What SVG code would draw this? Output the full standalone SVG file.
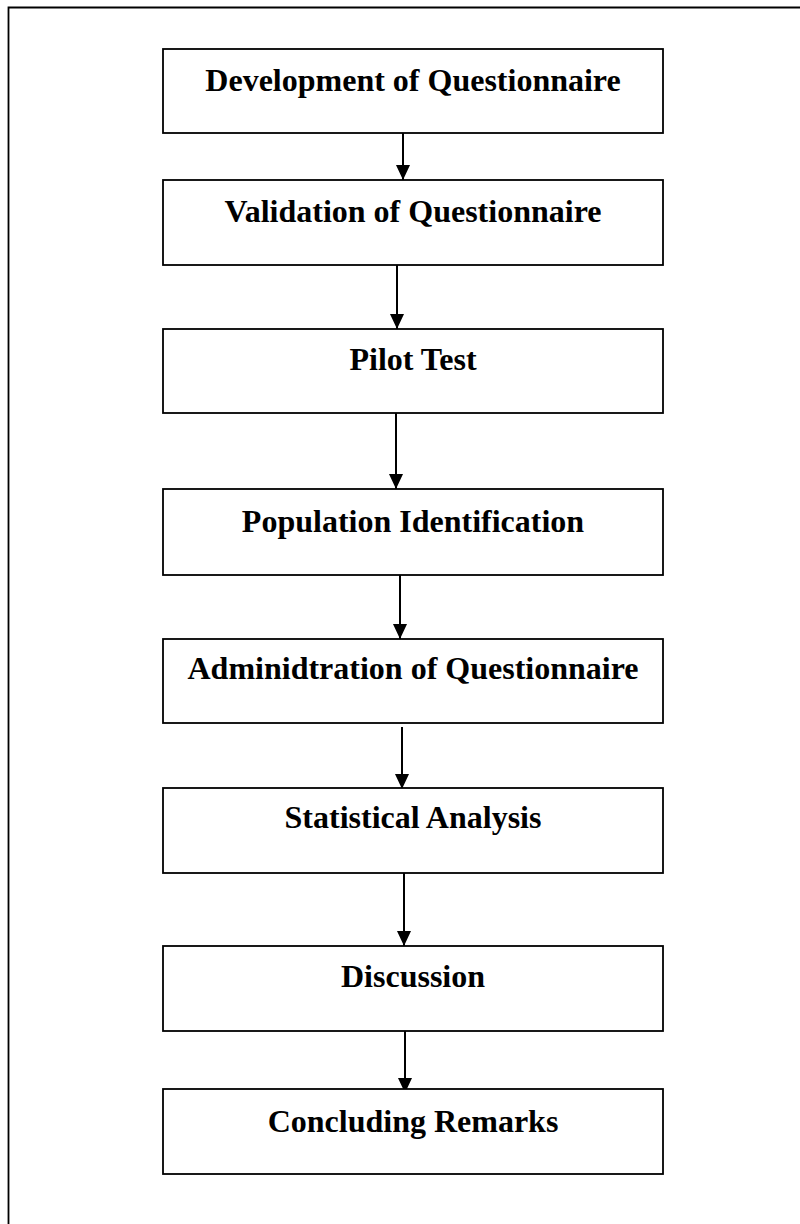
<svg xmlns="http://www.w3.org/2000/svg" width="800" height="1224" viewBox="0 0 800 1224">
<defs>
<style>
.box{fill:#fff;stroke:#000;stroke-width:1.8}
.lbl{font-family:"Liberation Serif","Times New Roman",serif;font-weight:bold;font-size:32px;text-anchor:middle;fill:#000}
.conn{stroke:#000;stroke-width:2;fill:none}
.frame{stroke:#000;stroke-width:1.8;fill:none}
</style>
<marker id="ah" viewBox="0 0 15 14" refX="15" refY="7" markerWidth="15" markerHeight="14" markerUnits="userSpaceOnUse" orient="auto">
<path d="M0,0 L15,7 L0,14 Z" fill="#000"/>
</marker>
</defs>
<rect width="800" height="1224" fill="#fff"/>
<path class="frame" d="M8.5,1224 V7.5 H800"/>
<g id="connectors">
<line class="conn" x1="403" y1="133" x2="403" y2="180" marker-end="url(#ah)"/>
<line class="conn" x1="397" y1="265" x2="397" y2="329" marker-end="url(#ah)"/>
<line class="conn" x1="396" y1="413" x2="396" y2="489" marker-end="url(#ah)"/>
<line class="conn" x1="400" y1="575" x2="400" y2="639" marker-end="url(#ah)"/>
<line class="conn" x1="402" y1="727" x2="402" y2="789" marker-end="url(#ah)"/>
<line class="conn" x1="404" y1="873" x2="404" y2="946" marker-end="url(#ah)"/>
<line class="conn" x1="405" y1="1031" x2="405" y2="1093" marker-end="url(#ah)"/>
</g>
<g id="n1"><rect class="box" x="163" y="49" width="500" height="84"/><text class="lbl" x="413" y="91">Development of Questionnaire</text></g>
<g id="n2"><rect class="box" x="163" y="180" width="500" height="85"/><text class="lbl" x="413" y="222">Validation of Questionnaire</text></g>
<g id="n3"><rect class="box" x="163" y="329" width="500" height="84"/><text class="lbl" x="413" y="370">Pilot Test</text></g>
<g id="n4"><rect class="box" x="163" y="489" width="500" height="86"/><text class="lbl" x="413" y="532">Population Identification</text></g>
<g id="n5"><rect class="box" x="163" y="639" width="500" height="84"/><text class="lbl" x="413" y="679">Adminidtration of Questionnaire</text></g>
<g id="n6"><rect class="box" x="163" y="788" width="500" height="85"/><text class="lbl" x="413" y="828">Statistical Analysis</text></g>
<g id="n7"><rect class="box" x="163" y="946" width="500" height="85"/><text class="lbl" x="413" y="987">Discussion</text></g>
<g id="n8"><rect class="box" x="163" y="1089" width="500" height="85"/><text class="lbl" x="413" y="1132">Concluding Remarks</text></g>
</svg>
